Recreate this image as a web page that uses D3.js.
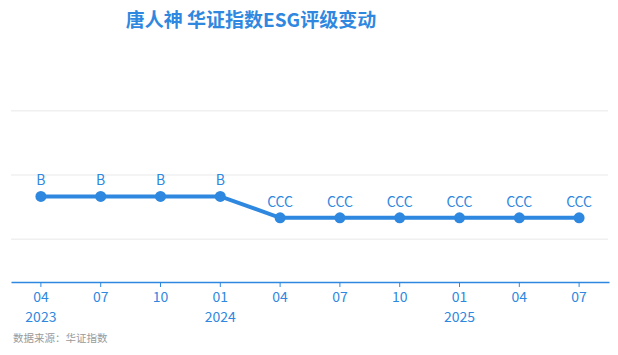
<!DOCTYPE html>
<html>
<head>
<meta charset="utf-8">
<script src="https://cdn.jsdelivr.net/npm/d3@7"></script>
<style>
  body { margin: 0; background: #fff; }
  svg text { font-family: "Noto Sans CJK SC", "Noto Sans", sans-serif; }
</style>
</head>
<body>
<script>
// quarters and ratings
const months = ["04", "07", "10", "01", "04", "07", "10", "01", "04", "07"];
const years = ["2023", "", "", "2024", "", "", "", "2025", "", ""];
const ratings = ["B", "B", "B", "B", "CCC", "CCC", "CCC", "CCC", "CCC", "CCC"];
const levels = ["C", "CC", "CCC", "B", "BB", "BBB", "A", "AA", "AAA"];
const gridLevels = [2, 5, 8];

const width = 618, height = 355;
const blue = "#2f88e0";
const svg = d3.select("body").append("svg")
  .attr("width", width)
  .attr("height", height);

// title
svg.append("text")
  .attr("x", 251).attr("y", 27)
  .attr("text-anchor", "middle")
  .attr("font-size", 19).attr("font-weight", "bold")
  .attr("fill", blue)
  .text("唐人神 华证指数ESG评级变动");

const idx = d3.range(months.length);
const x = d3.scaleBand().domain(idx).range([11, 609]);
const y = d3.scaleLinear().domain([0, 9]).range([282, 89.4]);
const cx = i => x(i) + x.bandwidth() / 2;
const val = r => levels.indexOf(r) + 1;

// grid
svg.append("g")
  .selectAll("line")
  .data(gridLevels)
  .join("line")
  .attr("x1", 11).attr("x2", 608)
  .attr("y1", d => y(d)).attr("y2", d => y(d))
  .attr("stroke", "#f0f0f0").attr("stroke-width", 1.5);

// x axis
const xAxis = svg.append("g")
  .attr("transform", "translate(0,282)")
  .call(d3.axisBottom(x).tickSizeInner(5).tickSizeOuter(0).tickFormat(i => months[i]));
xAxis.select(".domain").attr("stroke", blue).attr("stroke-width", 1.3);
xAxis.selectAll(".tick line").attr("stroke", blue);
xAxis.selectAll(".tick text")
  .attr("fill", blue).attr("font-size", 14).attr("dy", "0.3em")
  .attr("y", 16);
xAxis.selectAll(".tick")
  .append("text")
  .attr("y", 36).attr("dy", "0.3em")
  .attr("fill", blue).attr("font-size", 14)
  .text(i => years[i]);

// line
const line = d3.line().x((d, i) => cx(i)).y(d => y(val(d)));
svg.append("path")
  .datum(ratings)
  .attr("fill", "none")
  .attr("stroke", blue)
  .attr("stroke-width", 4)
  .attr("d", line);

svg.append("g")
  .selectAll("circle")
  .data(ratings)
  .join("circle")
  .attr("cx", (d, i) => cx(i))
  .attr("cy", d => y(val(d)))
  .attr("r", 5.5)
  .attr("fill", blue);

svg.append("g")
  .selectAll("text")
  .data(ratings)
  .join("text")
  .attr("x", (d, i) => cx(i))
  .attr("y", d => y(val(d)) - 11)
  .attr("text-anchor", "middle")
  .attr("font-size", 14)
  .attr("fill", blue)
  .text(d => d);

// source
svg.append("text")
  .attr("x", 13).attr("y", 342)
  .attr("font-size", 10.5)
  .attr("fill", "#9a9a9a")
  .text("数据来源：华证指数");
</script>
</body>
</html>
